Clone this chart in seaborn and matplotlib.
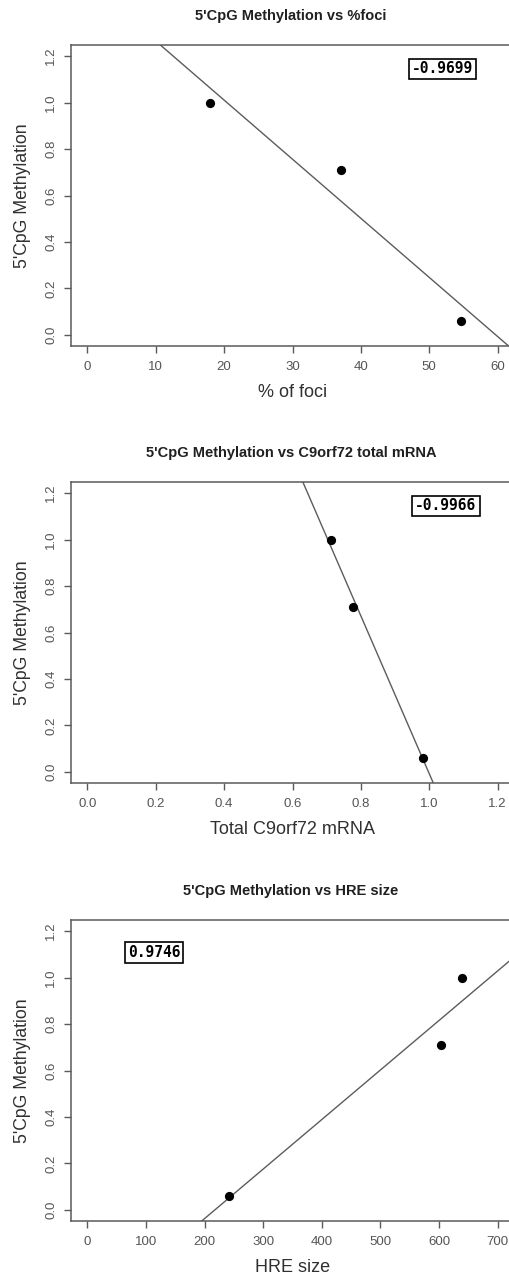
import matplotlib
matplotlib.use("Agg")
import matplotlib.pyplot as plt
import seaborn as sns
import numpy as np

# Per-sample measurements (three samples, same order in every list)
methylation = [1.0, 0.71, 0.06]
pct_foci = [17.9, 37.1, 54.6]
total_mrna = [0.713, 0.776, 0.983]
hre_size = [639, 603, 241]

titles = [
    "5'CpG Methylation vs %foci",
    "5'CpG Methylation vs C9orf72 total mRNA",
    "5'CpG Methylation vs HRE size",
]
xlabels = ["% of foci", "Total C9orf72 mRNA", "HRE size"]
ylabel = "5'CpG Methylation"
corr_labels = ["-0.9699", "-0.9966", "0.9746"]
x_ticks = [
    [0, 10, 20, 30, 40, 50, 60],
    [0.0, 0.2, 0.4, 0.6, 0.8, 1.0, 1.2],
    [0, 100, 200, 300, 400, 500, 600, 700],
]
x_ticklabels = [
    ["0", "10", "20", "30", "40", "50", "60"],
    ["0.0", "0.2", "0.4", "0.6", "0.8", "1.0", "1.2"],
    ["0", "100", "200", "300", "400", "500", "600", "700"],
]
y_ticks = [0.0, 0.2, 0.4, 0.6, 0.8, 1.0, 1.2]
y_ticklabels = ["0.0", "0.2", "0.4", "0.6", "0.8", "1.0", "1.2"]
x_limits = [(0, 60), (0.0, 1.2), (0, 700)]
y_limits = (0.0, 1.2)
corr_pos = [(51.95, 1.145), (1.049, 1.145), (113.7, 1.107)]

sns.set_theme(style="ticks")
plt.rcParams["font.family"] = ["Liberation Sans", "DejaVu Sans"]

W, H = 509, 1280
fig = plt.figure(figsize=(W / 100, H / 100), dpi=100)
fig.patch.set_facecolor("white")

axis_grey = "#5a5a5a"
label_grey = "#555555"

# axes rectangles in pixels: (left, top)
ax_left, ax_w, ax_h = 71, 443, 301
ax_tops = [45, 482, 920]
xs = [pct_foci, total_mrna, hre_size]


def expand(lim, frac=0.04):
    lo, hi = lim
    d = (hi - lo) * frac
    return lo - d, hi + d


for i in range(3):
    top = ax_tops[i]
    ax = fig.add_axes([ax_left / W, 1 - (top + ax_h) / H, ax_w / W, ax_h / H])
    ax.set_facecolor("white")
    ax.set_xlim(*expand(x_limits[i]))
    ax.set_ylim(*expand(y_limits))

    sns.regplot(
        x=np.array(xs[i]), y=np.array(methylation), ax=ax, ci=None, truncate=False,
        scatter_kws=dict(s=44, color="black", edgecolor="black", linewidths=0,
                         alpha=1.0, zorder=3),
        line_kws=dict(color="#5c5c5c", lw=1.0, zorder=2),
    )
    ax.set_xlim(*expand(x_limits[i]))
    ax.set_ylim(*expand(y_limits))

    for sp in ax.spines.values():
        sp.set_visible(True)
        sp.set_color(axis_grey)
        sp.set_linewidth(1.1)

    ax.set_xticks(x_ticks[i])
    ax.set_xticklabels(x_ticklabels[i])
    ax.set_yticks(y_ticks)
    ax.set_yticklabels(y_ticklabels, rotation=90, va="center")
    ax.tick_params(axis="both", direction="out", length=5, width=1.0,
                   color=axis_grey, labelcolor=label_grey, labelsize=9.5)
    ax.tick_params(axis="x", pad=6)
    ax.tick_params(axis="y", pad=5)

    ax.set_xlabel(xlabels[i], fontsize=13, color="#303030", labelpad=8)
    ax.set_ylabel(ylabel, fontsize=12.7, color="#303030", labelpad=10)

    # title centred over the plotting box
    fig.text((ax_left + 220) / W, 1 - (top - 29) / H, titles[i],
             ha="center", va="center", fontsize=10.5, fontweight="bold", color="#202020")

    cx, cy = corr_pos[i]
    ax.text(cx, cy, corr_labels[i], ha="center", va="center",
            family="DejaVu Sans Mono", fontweight="bold", fontsize=10.5, color="black",
            bbox=dict(boxstyle="square,pad=0.2", facecolor="white",
                      edgecolor="black", linewidth=1.2))

fig.savefig("out.png", dpi=100, facecolor="white")
